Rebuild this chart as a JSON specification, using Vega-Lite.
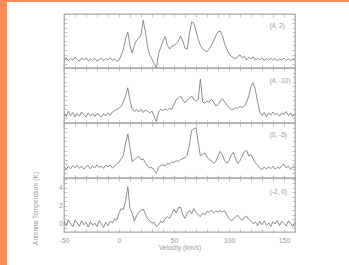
{
  "$schema": "https://vega.github.io/schema/vega-lite/v6.json",
  "padding": 0,
  "background": "white",
  "config": {
    "font": "Liberation Sans",
    "view": {"stroke": "#a9a9a9", "strokeWidth": 1.3},
    "axis": {"domain": false, "grid": false, "tickColor": "#aaaaaa", "tickWidth": 0.7, "labelColor": "#999999", "titleColor": "#999999", "labelFontSize": 7, "titleFontSize": 6.5, "titleFontWeight": "normal"}
  },
  "datasets": {
    "labels": [
      {"p": "(4, 2)", "v": 137, "t": 3.65},
      {"p": "(4, -10)", "v": 137, "t": 3.6},
      {"p": "(0, -5)", "v": 137, "t": 3.65},
      {"p": "(-2, 0)", "v": 137, "t": 3.5}
    ],
    "p1": [
      {"v":-50,"t":-0.1},{"v":-48,"t":0.15},{"v":-46,"t":-0.2},{"v":-44,"t":0.05},{"v":-42,"t":-0.15},{"v":-40,"t":0.2},{"v":-38,"t":-0.05},{"v":-36,"t":-0.25},{"v":-34,"t":0.1},{"v":-32,"t":-0.1},{"v":-30,"t":0.15},{"v":-28,"t":-0.2},{"v":-26,"t":0.0},{"v":-24,"t":-0.15},{"v":-22,"t":0.1},{"v":-20,"t":-0.25},{"v":-18,"t":-0.05},{"v":-16,"t":0.1},{"v":-14,"t":-0.2},{"v":-12,"t":0.05},{"v":-10,"t":-0.1},{"v":-8,"t":0.15},{"v":-6,"t":-0.15},{"v":-4,"t":0.0},{"v":-2,"t":-0.25},{"v":0,"t":-0.15},{"v":2,"t":0.45},{"v":4,"t":1.1},{"v":6,"t":2.3},{"v":8,"t":3.0},{"v":10,"t":1.5},{"v":12,"t":0.65},{"v":14,"t":1.5},{"v":16,"t":2.1},{"v":18,"t":2.3},{"v":20,"t":2.7},{"v":22,"t":4.3},{"v":24,"t":3.0},{"v":26,"t":1.3},{"v":28,"t":0.45},{"v":30,"t":0.0},{"v":32,"t":-0.5},{"v":34,"t":-1.0},{"v":36,"t":0.6},{"v":38,"t":1.3},{"v":40,"t":2.0},{"v":42,"t":2.5},{"v":44,"t":1.5},{"v":46,"t":1.1},{"v":48,"t":1.4},{"v":50,"t":1.5},{"v":52,"t":1.7},{"v":54,"t":2.0},{"v":56,"t":2.55},{"v":58,"t":2.0},{"v":60,"t":1.2},{"v":62,"t":1.1},{"v":64,"t":2.8},{"v":66,"t":4.1},{"v":68,"t":4.0},{"v":70,"t":3.1},{"v":72,"t":2.2},{"v":74,"t":1.5},{"v":76,"t":1.1},{"v":78,"t":0.95},{"v":80,"t":0.8},{"v":82,"t":1.1},{"v":84,"t":1.5},{"v":86,"t":2.0},{"v":88,"t":2.6},{"v":90,"t":3.0},{"v":92,"t":3.1},{"v":94,"t":2.6},{"v":96,"t":1.7},{"v":98,"t":1.1},{"v":100,"t":0.6},{"v":102,"t":0.3},{"v":104,"t":0.15},{"v":106,"t":0.0},{"v":108,"t":0.3},{"v":110,"t":0.45},{"v":112,"t":0.1},{"v":114,"t":0.3},{"v":116,"t":-0.1},{"v":118,"t":0.2},{"v":120,"t":0.0},{"v":122,"t":0.25},{"v":124,"t":-0.15},{"v":126,"t":0.1},{"v":128,"t":-0.1},{"v":130,"t":0.15},{"v":132,"t":-0.2},{"v":134,"t":0.05},{"v":136,"t":-0.1},{"v":138,"t":0.1},{"v":140,"t":-0.15},{"v":142,"t":0.05},{"v":144,"t":-0.2},{"v":146,"t":0.0},{"v":148,"t":-0.1},{"v":150,"t":0.1},{"v":152,"t":-0.2},{"v":154,"t":0.05},{"v":156,"t":-0.15},{"v":158,"t":0.0},{"v":160,"t":-0.1}
    ],
    "p2": [
      {"v":-50,"t":0.1},{"v":-48,"t":-0.3},{"v":-46,"t":0.3},{"v":-44,"t":-0.2},{"v":-42,"t":0.15},{"v":-40,"t":-0.35},{"v":-38,"t":0.05},{"v":-36,"t":-0.25},{"v":-34,"t":0.2},{"v":-32,"t":-0.1},{"v":-30,"t":-0.35},{"v":-28,"t":0.1},{"v":-26,"t":-0.2},{"v":-24,"t":0.0},{"v":-22,"t":-0.3},{"v":-20,"t":0.05},{"v":-18,"t":-0.15},{"v":-16,"t":-0.35},{"v":-14,"t":0.0},{"v":-12,"t":-0.2},{"v":-10,"t":0.1},{"v":-8,"t":-0.15},{"v":-6,"t":0.2},{"v":-4,"t":0.35},{"v":-2,"t":0.5},{"v":0,"t":0.6},{"v":2,"t":0.85},{"v":4,"t":1.3},{"v":6,"t":2.0},{"v":8,"t":2.85},{"v":10,"t":1.4},{"v":12,"t":0.55},{"v":14,"t":0.25},{"v":16,"t":0.45},{"v":18,"t":0.2},{"v":20,"t":0.5},{"v":22,"t":0.15},{"v":24,"t":0.4},{"v":26,"t":0.3},{"v":28,"t":0.1},{"v":30,"t":0.3},{"v":32,"t":-0.3},{"v":34,"t":-0.85},{"v":36,"t":0.2},{"v":38,"t":0.5},{"v":40,"t":0.35},{"v":42,"t":0.55},{"v":44,"t":0.4},{"v":46,"t":0.6},{"v":48,"t":0.5},{"v":50,"t":1.0},{"v":52,"t":1.55},{"v":54,"t":1.7},{"v":56,"t":1.95},{"v":58,"t":1.5},{"v":60,"t":1.2},{"v":62,"t":1.5},{"v":64,"t":1.7},{"v":66,"t":1.95},{"v":68,"t":1.6},{"v":70,"t":1.35},{"v":72,"t":1.6},{"v":74,"t":3.8},{"v":76,"t":1.3},{"v":78,"t":1.15},{"v":80,"t":1.4},{"v":82,"t":1.3},{"v":84,"t":1.6},{"v":86,"t":1.3},{"v":88,"t":0.85},{"v":90,"t":1.0},{"v":92,"t":1.4},{"v":94,"t":1.65},{"v":96,"t":1.3},{"v":98,"t":1.0},{"v":100,"t":0.7},{"v":102,"t":0.45},{"v":104,"t":0.5},{"v":106,"t":0.7},{"v":108,"t":0.6},{"v":110,"t":0.8},{"v":112,"t":0.7},{"v":114,"t":0.85},{"v":116,"t":1.3},{"v":118,"t":1.95},{"v":120,"t":3.0},{"v":122,"t":3.4},{"v":124,"t":2.6},{"v":126,"t":1.3},{"v":128,"t":0.2},{"v":130,"t":-0.2},{"v":132,"t":0.15},{"v":134,"t":-0.3},{"v":136,"t":0.1},{"v":138,"t":-0.15},{"v":140,"t":0.2},{"v":142,"t":-0.1},{"v":144,"t":0.05},{"v":146,"t":-0.25},{"v":148,"t":0.1},{"v":150,"t":-0.05},{"v":152,"t":0.25},{"v":154,"t":-0.2},{"v":156,"t":0.1},{"v":158,"t":-0.3},{"v":160,"t":0.0}
    ],
    "p3": [
      {"v":-50,"t":0.2},{"v":-48,"t":-0.1},{"v":-46,"t":0.3},{"v":-44,"t":0.0},{"v":-42,"t":0.35},{"v":-40,"t":0.1},{"v":-38,"t":0.4},{"v":-36,"t":0.05},{"v":-34,"t":0.3},{"v":-32,"t":-0.05},{"v":-30,"t":0.25},{"v":-28,"t":0.35},{"v":-26,"t":0.0},{"v":-24,"t":0.3},{"v":-22,"t":0.1},{"v":-20,"t":0.45},{"v":-18,"t":0.15},{"v":-16,"t":0.3},{"v":-14,"t":0.05},{"v":-12,"t":0.4},{"v":-10,"t":0.2},{"v":-8,"t":0.45},{"v":-6,"t":0.1},{"v":-4,"t":0.3},{"v":-2,"t":0.55},{"v":0,"t":0.7},{"v":2,"t":1.1},{"v":4,"t":1.5},{"v":6,"t":2.8},{"v":8,"t":3.8},{"v":10,"t":2.3},{"v":12,"t":0.8},{"v":14,"t":1.0},{"v":16,"t":1.2},{"v":18,"t":1.35},{"v":20,"t":1.0},{"v":22,"t":1.1},{"v":24,"t":0.65},{"v":26,"t":0.3},{"v":28,"t":0.1},{"v":30,"t":0.15},{"v":32,"t":-0.2},{"v":34,"t":-0.5},{"v":36,"t":0.2},{"v":38,"t":0.35},{"v":40,"t":0.45},{"v":42,"t":0.3},{"v":44,"t":0.6},{"v":46,"t":0.55},{"v":48,"t":0.75},{"v":50,"t":0.7},{"v":52,"t":0.9},{"v":54,"t":0.8},{"v":56,"t":1.0},{"v":58,"t":1.1},{"v":60,"t":1.2},{"v":62,"t":1.5},{"v":64,"t":2.6},{"v":66,"t":4.2},{"v":68,"t":4.35},{"v":70,"t":4.5},{"v":72,"t":2.9},{"v":74,"t":1.4},{"v":76,"t":1.6},{"v":78,"t":1.75},{"v":80,"t":1.3},{"v":82,"t":1.0},{"v":84,"t":0.9},{"v":86,"t":0.6},{"v":88,"t":0.8},{"v":90,"t":1.4},{"v":92,"t":1.9},{"v":94,"t":1.5},{"v":96,"t":0.9},{"v":98,"t":0.6},{"v":100,"t":0.9},{"v":102,"t":1.5},{"v":104,"t":1.8},{"v":106,"t":1.1},{"v":108,"t":0.6},{"v":110,"t":0.9},{"v":112,"t":1.4},{"v":114,"t":1.9},{"v":116,"t":2.0},{"v":118,"t":1.4},{"v":120,"t":1.55},{"v":122,"t":1.1},{"v":124,"t":0.65},{"v":126,"t":0.4},{"v":128,"t":0.1},{"v":130,"t":-0.1},{"v":132,"t":0.2},{"v":134,"t":-0.05},{"v":136,"t":0.25},{"v":138,"t":0.0},{"v":140,"t":0.3},{"v":142,"t":-0.05},{"v":144,"t":0.2},{"v":146,"t":0.05},{"v":148,"t":0.35},{"v":150,"t":0.5},{"v":152,"t":0.1},{"v":154,"t":0.3},{"v":156,"t":-0.05},{"v":158,"t":0.25},{"v":160,"t":0.1}
    ],
    "p4": [
      {"v":-50,"t":0.3},{"v":-48,"t":-0.2},{"v":-46,"t":0.45},{"v":-44,"t":0.0},{"v":-42,"t":-0.3},{"v":-40,"t":0.4},{"v":-38,"t":0.1},{"v":-36,"t":-0.25},{"v":-34,"t":0.35},{"v":-32,"t":-0.1},{"v":-30,"t":0.2},{"v":-28,"t":-0.35},{"v":-26,"t":0.25},{"v":-24,"t":-0.15},{"v":-22,"t":0.1},{"v":-20,"t":-0.3},{"v":-18,"t":0.35},{"v":-16,"t":0.0},{"v":-14,"t":-0.4},{"v":-12,"t":0.2},{"v":-10,"t":-0.2},{"v":-8,"t":0.3},{"v":-6,"t":0.1},{"v":-4,"t":0.55},{"v":-2,"t":0.4},{"v":0,"t":1.2},{"v":2,"t":1.7},{"v":4,"t":1.6},{"v":6,"t":2.5},{"v":8,"t":4.15},{"v":10,"t":1.7},{"v":12,"t":1.2},{"v":14,"t":0.3},{"v":16,"t":0.9},{"v":18,"t":1.3},{"v":20,"t":1.5},{"v":22,"t":1.65},{"v":24,"t":1.1},{"v":26,"t":0.6},{"v":28,"t":0.35},{"v":30,"t":0.05},{"v":32,"t":0.2},{"v":34,"t":-0.3},{"v":36,"t":-0.1},{"v":38,"t":0.3},{"v":40,"t":0.15},{"v":42,"t":0.6},{"v":44,"t":0.8},{"v":46,"t":0.6},{"v":48,"t":1.1},{"v":50,"t":1.65},{"v":52,"t":1.2},{"v":54,"t":1.8},{"v":56,"t":1.85},{"v":58,"t":1.0},{"v":60,"t":0.6},{"v":62,"t":1.2},{"v":64,"t":1.5},{"v":66,"t":1.1},{"v":68,"t":1.7},{"v":70,"t":1.3},{"v":72,"t":1.0},{"v":74,"t":0.8},{"v":76,"t":1.2},{"v":78,"t":1.0},{"v":80,"t":1.4},{"v":82,"t":1.3},{"v":84,"t":1.5},{"v":86,"t":1.2},{"v":88,"t":1.45},{"v":90,"t":1.3},{"v":92,"t":1.5},{"v":94,"t":1.35},{"v":96,"t":1.45},{"v":98,"t":1.0},{"v":100,"t":0.6},{"v":102,"t":0.35},{"v":104,"t":0.5},{"v":106,"t":0.8},{"v":108,"t":0.95},{"v":110,"t":0.6},{"v":112,"t":0.4},{"v":114,"t":0.75},{"v":116,"t":0.85},{"v":118,"t":0.5},{"v":120,"t":0.3},{"v":122,"t":0.0},{"v":124,"t":0.25},{"v":126,"t":-0.2},{"v":128,"t":0.3},{"v":130,"t":-0.1},{"v":132,"t":0.35},{"v":134,"t":-0.15},{"v":136,"t":0.1},{"v":138,"t":-0.3},{"v":140,"t":0.25},{"v":142,"t":0.0},{"v":144,"t":0.4},{"v":146,"t":-0.2},{"v":148,"t":0.3},{"v":150,"t":0.05},{"v":152,"t":-0.25},{"v":154,"t":0.35},{"v":156,"t":0.1},{"v":158,"t":-0.3},{"v":160,"t":0.2}
    ]
  },
  "spacing": 0,
  "vconcat": [
    {
      "width": 349, "height": 2,
      "view": {"stroke": null, "fill": "#FF8C55"},
      "data": {"values": [{}]},
      "mark": {"type": "text", "text": "", "fontSize": 0},
      "encoding": {}
    },
    {
      "spacing": 0,
      "hconcat": [
        {
          "width": 7, "height": 263,
          "view": {"stroke": null, "fill": "#FF8C55"},
          "data": {"values": [{}]},
          "mark": {"type": "text", "text": "", "fontSize": 0},
          "encoding": {}
        },
        {
          "spacing": 0,
          "bounds": "flush",
          "vconcat": [
            {
              "width": 231, "height": 12,
              "view": {"stroke": null},
              "data": {"values": [{}]},
              "mark": {"type": "text", "text": "", "fontSize": 0},
              "encoding": {}
            },
            {
              "width": 231, "height": 54,
              "layer": [
                {
                  "data": {"name": "p1"},
                  "mark": {"type": "line", "color": "#808080", "strokeWidth": 0.9, "clip": true},
                  "encoding": {
                    "x": {"field": "v", "type": "quantitative", "scale": {"domain": [-50, 160], "nice": false, "zero": false},
                      "axis": {"orient": "bottom", "values": [-50,-40,-30,-20,-10,0,10,20,30,40,50,60,70,80,90,100,110,120,130,140,150,160], "labels": false, "title": null, "tickSize": -3, "maxExtent": 0}},
                    "y": {"field": "t", "type": "quantitative", "scale": {"domain": [-1, 5], "nice": false, "zero": false},
                      "axis": {"orient": "left", "values": [-0.5,0,0.5,1,1.5,2,2.5,3,3.5,4,4.5,5], "labels": false, "title": null, "tickSize": -3, "minExtent": 56, "maxExtent": 56}}
                  }
                },
                {
                  "data": {"name": "labels"},
                  "transform": [{"filter": "datum.p == '(4, 2)'"}],
                  "mark": {"type": "text", "align": "left", "baseline": "middle", "fontSize": 6.5, "color": "#999999"},
                  "encoding": {
                    "x": {"field": "v", "type": "quantitative", "scale": {"domain": [-50, 160], "nice": false, "zero": false},
                      "axis": {"orient": "top", "values": [-50,-40,-30,-20,-10,0,10,20,30,40,50,60,70,80,90,100,110,120,130,140,150,160], "labels": false, "title": null, "tickSize": -3, "maxExtent": 0}},
                    "y": {"field": "t", "type": "quantitative", "scale": {"domain": [-1, 5], "nice": false, "zero": false},
                      "axis": {"orient": "right", "values": [-0.5,0,0.5,1,1.5,2,2.5,3,3.5,4,4.5,5], "labels": false, "title": null, "tickSize": -3, "maxExtent": 0}},
                    "text": {"field": "p"}
                  }
                }
              ],
              "resolve": {"axis": {"x": "independent", "y": "independent"}}
            },
            {
              "width": 231, "height": 55,
              "layer": [
                {
                  "data": {"name": "p2"},
                  "mark": {"type": "line", "color": "#808080", "strokeWidth": 0.9, "clip": true},
                  "encoding": {
                    "x": {"field": "v", "type": "quantitative", "scale": {"domain": [-50, 160], "nice": false, "zero": false},
                      "axis": {"orient": "bottom", "values": [-50,-40,-30,-20,-10,0,10,20,30,40,50,60,70,80,90,100,110,120,130,140,150,160], "labels": false, "title": null, "tickSize": -3, "maxExtent": 0}},
                    "y": {"field": "t", "type": "quantitative", "scale": {"domain": [-1, 5], "nice": false, "zero": false},
                      "axis": {"orient": "left", "values": [-0.5,0,0.5,1,1.5,2,2.5,3,3.5,4,4.5,5], "labels": false, "title": null, "tickSize": -3, "minExtent": 56, "maxExtent": 56}}
                  }
                },
                {
                  "data": {"name": "labels"},
                  "transform": [{"filter": "datum.p == '(4, -10)'"}],
                  "mark": {"type": "text", "align": "left", "baseline": "middle", "fontSize": 6.5, "color": "#999999"},
                  "encoding": {
                    "x": {"field": "v", "type": "quantitative", "scale": {"domain": [-50, 160], "nice": false, "zero": false},
                      "axis": {"orient": "top", "values": [-50,-40,-30,-20,-10,0,10,20,30,40,50,60,70,80,90,100,110,120,130,140,150,160], "labels": false, "title": null, "tickSize": -3, "maxExtent": 0}},
                    "y": {"field": "t", "type": "quantitative", "scale": {"domain": [-1, 5], "nice": false, "zero": false},
                      "axis": {"orient": "right", "values": [-0.5,0,0.5,1,1.5,2,2.5,3,3.5,4,4.5,5], "labels": false, "title": null, "tickSize": -3, "maxExtent": 0}},
                    "text": {"field": "p"}
                  }
                }
              ],
              "resolve": {"axis": {"x": "independent", "y": "independent"}}
            },
            {
              "width": 231, "height": 55,
              "layer": [
                {
                  "data": {"name": "p3"},
                  "mark": {"type": "line", "color": "#808080", "strokeWidth": 0.9, "clip": true},
                  "encoding": {
                    "x": {"field": "v", "type": "quantitative", "scale": {"domain": [-50, 160], "nice": false, "zero": false},
                      "axis": {"orient": "bottom", "values": [-50,-40,-30,-20,-10,0,10,20,30,40,50,60,70,80,90,100,110,120,130,140,150,160], "labels": false, "title": null, "tickSize": -3, "maxExtent": 0}},
                    "y": {"field": "t", "type": "quantitative", "scale": {"domain": [-1, 5], "nice": false, "zero": false},
                      "axis": {"orient": "left", "values": [-0.5,0,0.5,1,1.5,2,2.5,3,3.5,4,4.5,5], "labels": false, "title": null, "tickSize": -3, "minExtent": 56, "maxExtent": 56}}
                  }
                },
                {
                  "data": {"name": "labels"},
                  "transform": [{"filter": "datum.p == '(0, -5)'"}],
                  "mark": {"type": "text", "align": "left", "baseline": "middle", "fontSize": 6.5, "color": "#999999"},
                  "encoding": {
                    "x": {"field": "v", "type": "quantitative", "scale": {"domain": [-50, 160], "nice": false, "zero": false},
                      "axis": {"orient": "top", "values": [-50,-40,-30,-20,-10,0,10,20,30,40,50,60,70,80,90,100,110,120,130,140,150,160], "labels": false, "title": null, "tickSize": -3, "maxExtent": 0}},
                    "y": {"field": "t", "type": "quantitative", "scale": {"domain": [-1, 5], "nice": false, "zero": false},
                      "axis": {"orient": "right", "values": [-0.5,0,0.5,1,1.5,2,2.5,3,3.5,4,4.5,5], "labels": false, "title": null, "tickSize": -3, "maxExtent": 0}},
                    "text": {"field": "p"}
                  }
                }
              ],
              "resolve": {"axis": {"x": "independent", "y": "independent"}}
            },
            {
              "width": 231, "height": 54,
              "layer": [
                {
                  "data": {"name": "p4"},
                  "mark": {"type": "line", "color": "#808080", "strokeWidth": 0.9, "clip": true},
                  "encoding": {
                    "x": {"field": "v", "type": "quantitative", "scale": {"domain": [-50, 160], "nice": false, "zero": false},
                      "axis": {"orient": "bottom", "values": [-50,-40,-30,-20,-10,0,10,20,30,40,50,60,70,80,90,100,110,120,130,140,150,160], "labelExpr": "datum.value % 50 == 0 ? toString(datum.value) : ''", "labelFlush": false, "labelOverlap": false, "labelPadding": 7.5, "title": "Velocity (km/s)", "titlePadding": 1, "tickSize": -3}},
                    "y": {"field": "t", "type": "quantitative", "scale": {"domain": [-0.9, 5.1], "nice": false, "zero": false},
                      "axis": {"orient": "left", "values": [-0.5,0,0.5,1,1.5,2,2.5,3,3.5,4,4.5,5], "labelExpr": "datum.value == 0 || datum.value == 2 || datum.value == 4 ? toString(datum.value) : ''", "labelFlush": false, "labelOverlap": false, "labelPadding": 4.5, "title": "Antenna Temperature (K)", "titleAngle": 270, "titleAlign": "center", "titleBaseline": "middle", "titleX": -29, "titleY": 30, "tickSize": -3, "minExtent": 56, "maxExtent": 56}}
                  }
                },
                {
                  "data": {"name": "labels"},
                  "transform": [{"filter": "datum.p == '(-2, 0)'"}],
                  "mark": {"type": "text", "align": "left", "baseline": "middle", "fontSize": 6.5, "color": "#999999"},
                  "encoding": {
                    "x": {"field": "v", "type": "quantitative", "scale": {"domain": [-50, 160], "nice": false, "zero": false},
                      "axis": {"orient": "top", "values": [-50,-40,-30,-20,-10,0,10,20,30,40,50,60,70,80,90,100,110,120,130,140,150,160], "labels": false, "title": null, "tickSize": -3, "maxExtent": 0}},
                    "y": {"field": "t", "type": "quantitative", "scale": {"domain": [-0.9, 5.1], "nice": false, "zero": false},
                      "axis": {"orient": "right", "values": [-0.5,0,0.5,1,1.5,2,2.5,3,3.5,4,4.5,5], "labels": false, "title": null, "tickSize": -3, "maxExtent": 0}},
                    "text": {"field": "p"}
                  }
                }
              ],
              "resolve": {"axis": {"x": "independent", "y": "independent"}}
            }
          ]
        }
      ]
    }
  ]
}
